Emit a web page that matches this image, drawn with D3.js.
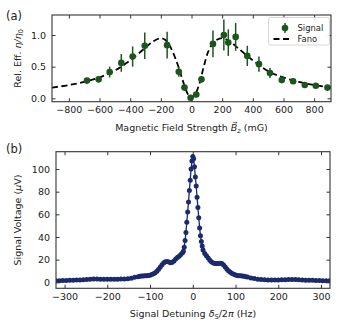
<!DOCTYPE html>
<html>
<head>
<meta charset="utf-8">
<script src="https://cdn.jsdelivr.net/npm/d3@7"></script>
<style>
  body { margin: 0; background: #fff; }
  text { font-family: "DejaVu Sans", sans-serif; fill: #222; }
</style>
</head>
<body>
<div id="chart"></div>
<script>
// Panel (a): relative efficiency vs magnetic field
const fieldB = [-682, -606, -534, -458, -384, -305, -159, -83, -46, -6, 31, 65,
                140, 211, 240, 288, 364, 440, 512, 589, 663, 739, 811, 887];
const relEff = [0.28, 0.30, 0.415, 0.56, 0.66, 0.83, 0.84, 0.42, 0.17, 0.01, 0.06, 0.30,
                0.86, 1.00, 0.88, 0.97, 0.67, 0.54, 0.40, 0.29, 0.27, 0.21, 0.20, 0.17];
const relEffErr = [0.04, 0.05, 0.085, 0.14, 0.16, 0.21, 0.21, 0.08, 0.04, 0.03, 0.04, 0.05,
                   0.21, 0.245, 0.21, 0.22, 0.16, 0.12, 0.08, 0.05, 0.03, 0.03, 0.02, 0.02];

// Fano fit
const fanoB = [-910, -800, -700, -600, -500, -400, -300, -250, -200, -170, -140, -100, -70, -40, -20, 0,
               20, 50, 80, 110, 150, 200, 250, 300, 400, 500, 600, 700, 800, 910];
const fanoEff = [0.17, 0.21, 0.26, 0.33, 0.44, 0.60, 0.80, 0.90, 0.95, 0.92, 0.82, 0.60, 0.38, 0.16, 0.05, 0.0,
                 0.04, 0.22, 0.50, 0.74, 0.90, 0.95, 0.90, 0.80, 0.60, 0.43, 0.33, 0.26, 0.21, 0.17];

const xTicksA = [-800, -600, -400, -200, 0, 200, 400, 600, 800];
const yTicksA = [0, 0.5, 1.0];

// Panel (b): signal voltage vs detuning
const detuning = [
  -320, -312, -304, -296, -288, -280, -272, -264, -256, -248, -240, -232, -224, -216, -208, -200,
  -192, -184, -176, -168, -160, -152, -144, -136, -128,
  -124, -120, -116, -112, -108, -104, -100, -96, -92, -88, -84, -80, -76, -72, -68, -64,
  -60, -56, -52, -48, -44, -40, -36, -32, -28, -24,
  -22, -20, -18, -16, -14, -12, -10, -8, -6, -4, -2, 0, 2, 4, 6, 8, 10, 12, 14, 16, 18, 20, 22,
  24, 28, 32, 36, 40, 44, 48, 52, 56, 60, 64, 68, 72, 76, 80, 84, 88, 92, 96, 100,
  104, 108, 112, 116, 120, 124,
  128, 136, 144, 152, 160, 168, 176, 184, 192, 200, 208, 216, 224, 232, 240, 248,
  256, 264, 272, 280, 288, 296, 304, 312, 320
];
const voltage = [
  1.3, 1.4, 1.5, 1.6, 1.7, 1.8, 2.0, 2.1, 2.3, 2.5, 2.7, 2.9, 2.9, 2.8, 2.7, 2.7,
  2.6, 2.7, 2.8, 2.9, 3.0, 3.2, 3.6, 4.4, 5.0,
  5.3, 5.5, 5.6, 5.7, 5.8, 6.0, 6.3, 6.8, 7.5, 8.5, 9.8, 11.5, 13.5, 15.5, 17.2, 18.2,
  18.4, 17.9, 17.3, 17.6, 18.8, 20.5, 21.8, 23.0, 24.5, 26.0,
  27.5, 31, 37, 44, 53, 62, 71, 81, 90, 100, 107, 111, 109, 102, 93, 85, 75, 66, 57, 48, 41, 36, 32,
  28.5, 25.5, 23.5, 21.5, 19.5, 18, 17, 16.5, 16.5, 16.6, 16.8, 16.5, 15.3, 13.5, 11.5, 10, 8.8, 7.8, 7, 6.4,
  6.0, 5.8, 5.7, 5.6, 5.4, 5.0,
  4.6, 3.9, 3.3, 2.8, 2.4, 2.2, 2.1, 2.0, 2.0, 2.1, 2.2, 2.3, 2.5, 2.5, 2.4, 2.3,
  2.1, 1.9, 1.8, 1.7, 1.6, 1.5, 1.4, 1.3, 1.3
];

const xTicksB = [-300, -200, -100, 0, 100, 200, 300];
const yTicksB = [0, 20, 40, 60, 80, 100];

const green = "#1d561d";
const navy = "#1b2a6b";
const spine = "#333";

const svg = d3.select("#chart")
  .append("svg")
  .attr("width", 346)
  .attr("height", 336);

// Draws a boxed frame with inward ticks on all four sides
function drawFrame(g, x, y, xTicks, yTicks, yFormat, w, h) {
  const tick = 3.5;
  g.append("g")
    .attr("transform", `translate(0,${h})`)
    .call(d3.axisBottom(x).tickValues(xTicks).tickSizeInner(-tick).tickSizeOuter(0).tickPadding(5));
  g.append("g")
    .call(d3.axisTop(x).tickValues(xTicks).tickSizeInner(-tick).tickSizeOuter(0).tickFormat(""));
  g.append("g")
    .call(d3.axisLeft(y).tickValues(yTicks).tickSizeInner(-tick).tickSizeOuter(0).tickPadding(6).tickFormat(yFormat));
  g.append("g")
    .attr("transform", `translate(${w},0)`)
    .call(d3.axisRight(y).tickValues(yTicks).tickSizeInner(-tick).tickSizeOuter(0).tickFormat(""));

  g.selectAll(".domain").remove();
  g.selectAll(".tick line").attr("stroke", spine);
  g.selectAll(".tick text").attr("font-size", 9.5).attr("fill", "#222");

  g.append("rect")
    .attr("width", w)
    .attr("height", h)
    .attr("fill", "none")
    .attr("stroke", spine)
    .attr("stroke-width", 1.1);
}

// ---------- Panel (a) ----------
const a = { left: 52, top: 15, width: 279, height: 86.7 };
const gA = svg.append("g").attr("transform", `translate(${a.left},${a.top})`);

const xA = d3.scaleLinear().domain([-910, 910]).range([0, a.width]);
const yA = d3.scaleLinear().domain([-0.053, 1.316]).range([a.height, 0]);

gA.append("clipPath").attr("id", "clipA")
  .append("rect").attr("width", a.width).attr("height", a.height);

const fanoLine = d3.line()
  .x((d, i) => xA(fanoB[i]))
  .y((d, i) => yA(fanoEff[i]))
  .curve(d3.curveCatmullRom.alpha(0.5));

gA.append("path")
  .datum(fanoB)
  .attr("clip-path", "url(#clipA)")
  .attr("d", fanoLine)
  .attr("fill", "none")
  .attr("stroke", "#000")
  .attr("stroke-width", 1.8)
  .attr("stroke-dasharray", "6,3.5");

// Error bars
gA.selectAll(".err")
  .data(fieldB)
  .enter()
  .append("line")
  .attr("class", "err")
  .attr("x1", (d, i) => xA(d))
  .attr("x2", (d, i) => xA(d))
  .attr("y1", (d, i) => yA(relEff[i] - relEffErr[i]))
  .attr("y2", (d, i) => yA(relEff[i] + relEffErr[i]))
  .attr("stroke", green)
  .attr("stroke-width", 1.5);

gA.selectAll(".pt")
  .data(fieldB)
  .enter()
  .append("circle")
  .attr("class", "pt")
  .attr("cx", d => xA(d))
  .attr("cy", (d, i) => yA(relEff[i]))
  .attr("r", 3.3)
  .attr("fill", green);

drawFrame(gA, xA, yA, xTicksA, yTicksA, d3.format(".1f"), a.width, a.height);

// Legend
const leg = svg.append("g").attr("transform", "translate(268.5,17.5)");
leg.append("rect")
  .attr("width", 61)
  .attr("height", 27.5)
  .attr("rx", 2)
  .attr("fill", "#fff")
  .attr("fill-opacity", 0.85)
  .attr("stroke", "#ccc")
  .attr("stroke-width", 0.8);
leg.append("circle").attr("cx", 16.5).attr("cy", 10.5).attr("r", 3.3).attr("fill", green);
leg.append("line").attr("x1", 16.5).attr("x2", 16.5).attr("y1", 5.5).attr("y2", 15.5)
  .attr("stroke", green).attr("stroke-width", 1.5);
leg.append("text").attr("x", 29).attr("y", 13.5).attr("font-size", 8.4).text("Signal");
leg.append("line").attr("x1", 5).attr("x2", 20.5).attr("y1", 21.5).attr("y2", 21.5)
  .attr("stroke", "#000").attr("stroke-width", 1.8).attr("stroke-dasharray", "6,3.5");
leg.append("text").attr("x", 29).attr("y", 24.5).attr("font-size", 8.4).text("Fano");

// Axis labels (a)
const xLabA = svg.append("text")
  .attr("x", a.left + a.width / 2)
  .attr("y", 131)
  .attr("text-anchor", "middle")
  .attr("font-size", 9.5);
xLabA.append("tspan").text("Magnetic Field Strength ");
xLabA.append("tspan").attr("font-style", "italic").text("B\u20D7");
xLabA.append("tspan").attr("font-style", "italic").attr("font-size", 6.6).attr("dy", 2).text("z");
xLabA.append("tspan").attr("dy", -2).text(" (mG)");

const yLabA = svg.append("text")
  .attr("transform", `translate(21,${a.top + a.height / 2}) rotate(-90)`)
  .attr("text-anchor", "middle")
  .attr("font-size", 9.5);
yLabA.append("tspan").text("Rel. Eff. ");
yLabA.append("tspan").attr("font-style", "italic").text("\u03B7/\u03B7");
yLabA.append("tspan").attr("font-size", 6.6).attr("dy", 2).text("0");

svg.append("text").attr("x", 6).attr("y", 19.5).attr("font-size", 11.5).text("(a)");

// ---------- Panel (b) ----------
const b = { left: 56, top: 151.7, width: 274, height: 136.6 };
const gB = svg.append("g").attr("transform", `translate(${b.left},${b.top})`);

const xB = d3.scaleLinear().domain([-320, 321]).range([0, b.width]);
const yB = d3.scaleLinear().domain([-5.3, 115.3]).range([b.height, 0]);

gB.append("clipPath").attr("id", "clipB")
  .append("rect").attr("width", b.width).attr("height", b.height);

const sigLine = d3.line()
  .x((d, i) => xB(detuning[i]))
  .y((d, i) => yB(voltage[i]));

const plotB = gB.append("g").attr("clip-path", "url(#clipB)");

plotB.append("path")
  .datum(detuning)
  .attr("d", sigLine)
  .attr("fill", "none")
  .attr("stroke", navy)
  .attr("stroke-width", 1.3);

plotB.selectAll(".sig")
  .data(detuning)
  .enter()
  .append("circle")
  .attr("class", "sig")
  .attr("cx", d => xB(d))
  .attr("cy", (d, i) => yB(voltage[i]))
  .attr("r", 2.5)
  .attr("fill", navy);

drawFrame(gB, xB, yB, xTicksB, yTicksB, d3.format("d"), b.width, b.height);

// Axis labels (b)
const xLabB = svg.append("text")
  .attr("x", b.left + b.width / 2)
  .attr("y", 316.5)
  .attr("text-anchor", "middle")
  .attr("font-size", 9.5);
xLabB.append("tspan").text("Signal Detuning ");
xLabB.append("tspan").attr("font-style", "italic").text("\u03B4");
xLabB.append("tspan").attr("font-size", 6.6).attr("dy", 2).text("S");
xLabB.append("tspan").attr("dy", -2).text("/2");
xLabB.append("tspan").attr("font-style", "italic").text("\u03C0");
xLabB.append("tspan").text(" (Hz)");

const yLabB = svg.append("text")
  .attr("transform", `translate(21,${b.top + b.height / 2}) rotate(-90)`)
  .attr("text-anchor", "middle")
  .attr("font-size", 9.5);
yLabB.append("tspan").text("Signal Voltage (");
yLabB.append("tspan").attr("font-style", "italic").text("\u03BC");
yLabB.append("tspan").text("V)");

svg.append("text").attr("x", 6).attr("y", 152.5).attr("font-size", 11.5).text("(b)");
</script>
</body>
</html>
